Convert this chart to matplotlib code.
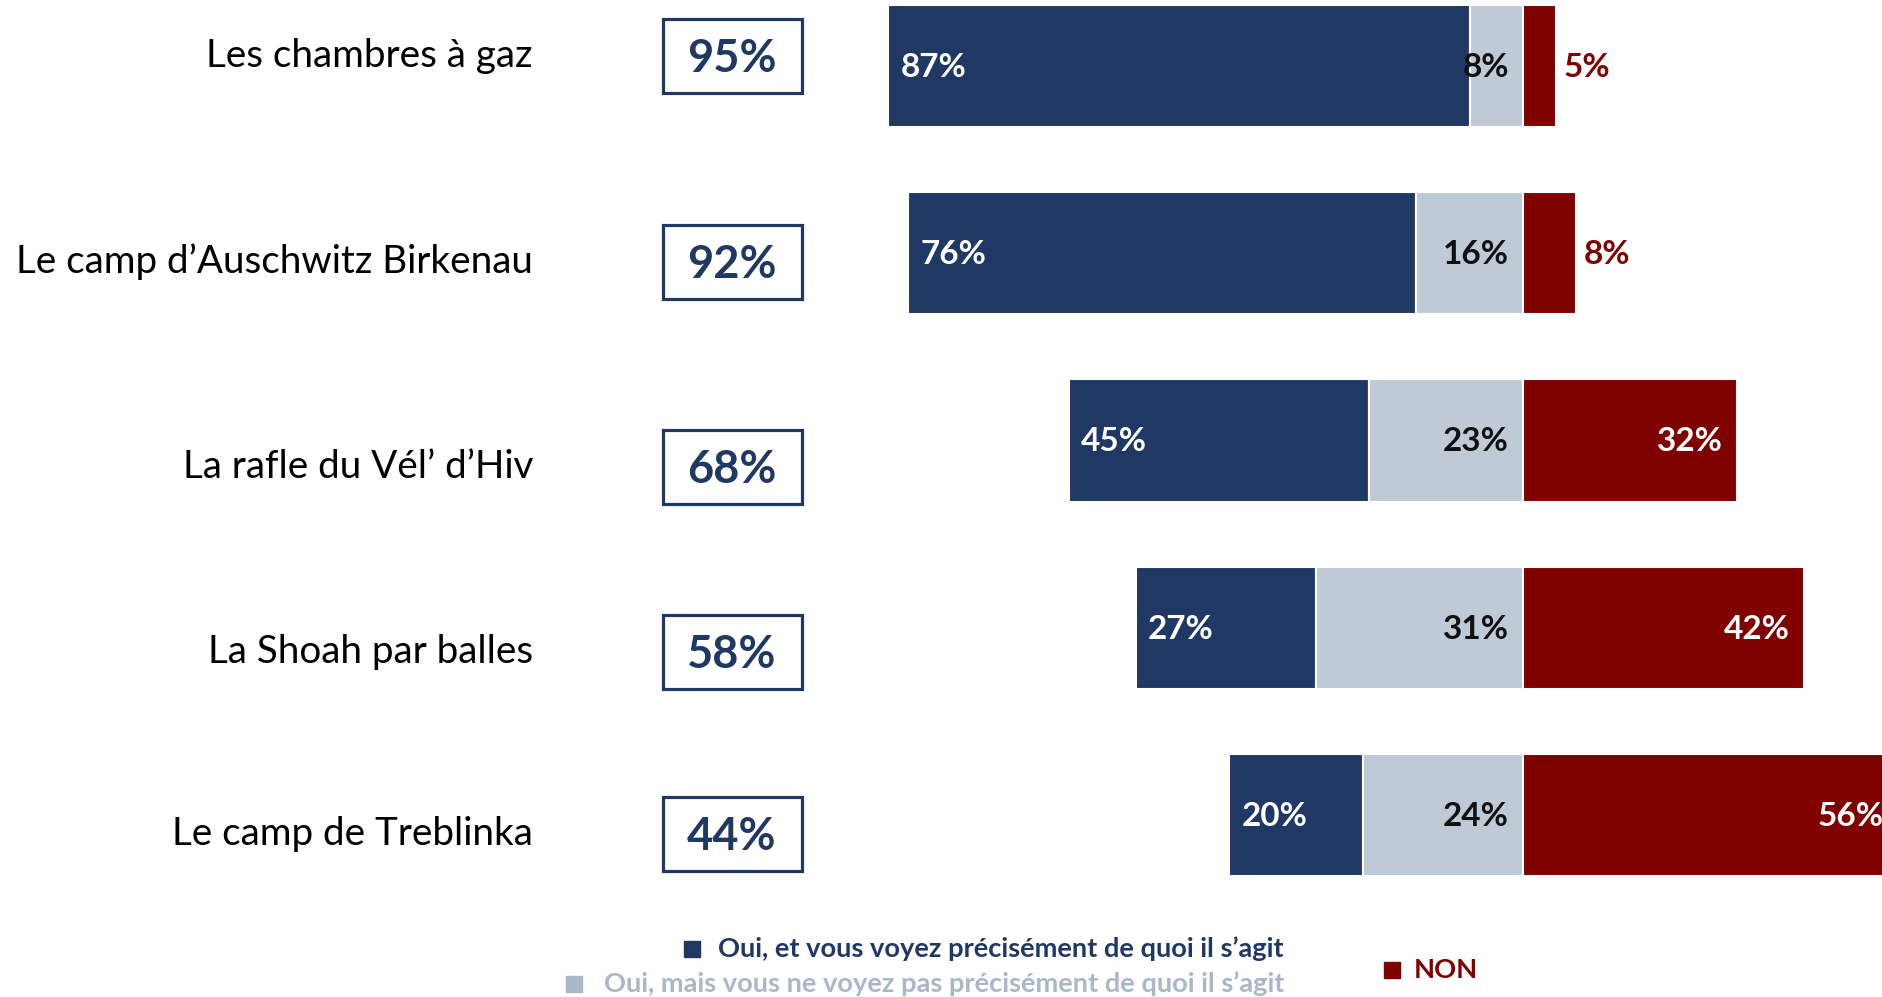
import matplotlib.pyplot as plt
from matplotlib.patches import Rectangle

plt.rcParams['font.family'] = ['Lato', 'DejaVu Sans']

categories = ["Les chambres à gaz", "Le camp d’Auschwitz Birkenau", "La rafle du Vél’ d’Hiv",
              "La Shoah par balles", "Le camp de Treblinka"]
oui_precis = [87, 76, 45, 27, 20]
oui_vague = [8, 16, 23, 31, 24]
non = [5, 8, 32, 42, 56]
total_oui = [95, 92, 68, 58, 44]

legend_labels = ["Oui, et vous voyez précisément de quoi il s’agit",
                 "Oui, mais vous ne voyez pas précisément de quoi il s’agit",
                 "NON"]

navy = '#203864'
grey = '#BFCAD7'
red = '#800000'
grey_text = '#A9B7CA'

W, H = 1882, 997
fig = plt.figure(figsize=(W / 100, H / 100), dpi=100)


def fx(px):
    return px / W


def fy(py):
    return 1 - py / H


# axes over whole figure: x in percent, zero at pixel 1523, 6.68 px per %
ax = fig.add_axes([0, 0, 1, 1])
ax.set_xlim(-1523 / 6.68, (W - 1523) / 6.68)
ax.set_ylim((H - 66) / 187.25, -66 / 187.25)
ax.axis('off')

rows = range(len(categories))
h = 0.652
left_blue = [-(a + b) for a, b in zip(oui_precis, oui_vague)]
left_grey = [-b for b in oui_vague]
ax.barh(rows, oui_precis, left=left_blue, height=h, color=navy, edgecolor='white', linewidth=1.5)
ax.barh(rows, oui_vague, left=left_grey, height=h, color=grey, edgecolor='white', linewidth=1.5)
ax.barh(rows, non, left=0, height=h, color=red, edgecolor='white', linewidth=1.5)

fs = 24
for i in rows:
    ax.annotate(f"{oui_precis[i]}%", (left_blue[i], i), xytext=(9, -1), textcoords='offset points',
                ha='left', va='center', color='white', fontsize=fs, fontweight='bold')
    ax.annotate(f"{oui_vague[i]}%", (0, i), xytext=(-10, -1), textcoords='offset points',
                ha='right', va='center', color='#111111', fontsize=fs, fontweight='bold')
    if non[i] < 10:
        ax.annotate(f"{non[i]}%", (non[i], i), xytext=(5, -1), textcoords='offset points',
                    ha='left', va='center', color=red, fontsize=fs, fontweight='bold')
    else:
        ax.annotate(f"{non[i]}%", (non[i], i), xytext=(-10, -1), textcoords='offset points',
                    ha='right', va='center', color='white', fontsize=fs, fontweight='bold',
                    annotation_clip=False)

# category labels and total boxes
label_y = [56, 262, 467, 652, 834]
for i, cat in enumerate(categories):
    fig.text(fx(533), fy(label_y[i]), cat, ha='right', va='center', fontsize=27.8, color='black')
    fig.patches.append(Rectangle((fx(663), fy(label_y[i] + 37)), fx(139), 74 / H,
                                 transform=fig.transFigure, fill=False, edgecolor=navy, linewidth=2.3))
    fig.text(fx(732), fy(label_y[i] + 3), f"{total_oui[i]}%", ha='center', va='center',
             fontsize=32.5, fontweight='bold', color=navy)

# legend
sq = 16
lfs = 19.6
fig.patches.append(Rectangle((fx(684), fy(949 + sq / 2)), fx(sq), sq / H, transform=fig.transFigure,
                             color=navy))
fig.text(fx(1284), fy(949), legend_labels[0], ha='right', va='center', fontsize=lfs,
         fontweight='bold', color=navy)
fig.patches.append(Rectangle((fx(566), fy(984 + sq / 2)), fx(sq), sq / H, transform=fig.transFigure,
                             color=grey_text))
fig.text(fx(1284), fy(984), legend_labels[1], ha='right', va='center', fontsize=lfs,
         fontweight='bold', color=grey_text)
fig.patches.append(Rectangle((fx(1384), fy(970 + sq / 2)), fx(sq), sq / H, transform=fig.transFigure,
                             color=red))
fig.text(fx(1414), fy(970), legend_labels[2], ha='left', va='center', fontsize=lfs,
         fontweight='bold', color=red)

fig.savefig('out.png', dpi=100)
